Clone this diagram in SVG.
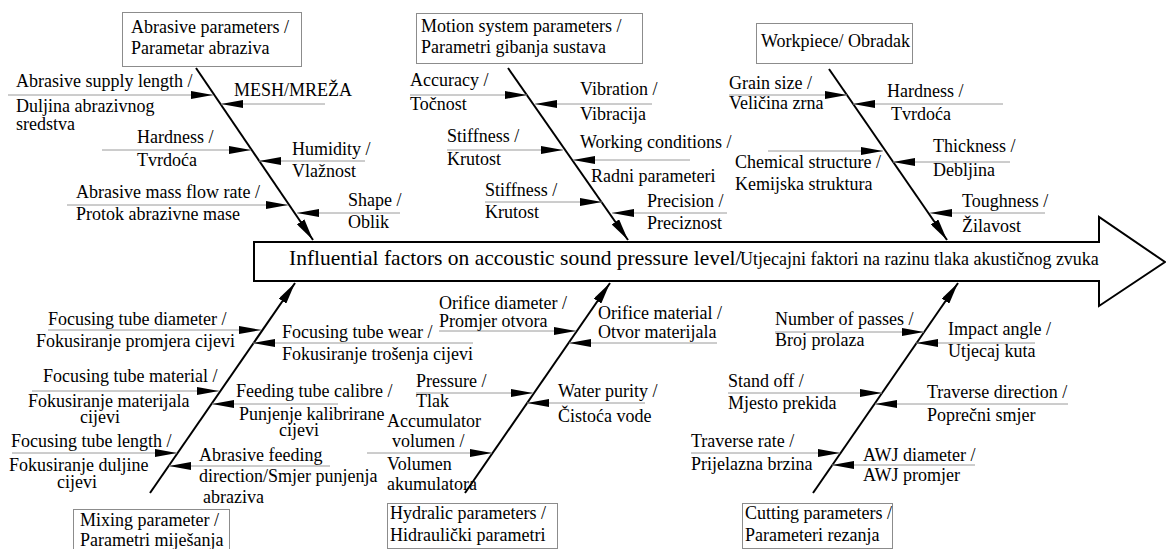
<svg xmlns="http://www.w3.org/2000/svg" width="1166" height="549" viewBox="0 0 1166 549">
<style>
text{font-family:"Liberation Serif","Times New Roman",serif;font-size:18px;fill:#000}
.box{fill:#fff;stroke:#8c8c8c;stroke-width:1}
.bone{stroke:#000;stroke-width:2;fill:none;marker-end:url(#bh)}
.sub{stroke:#9a9a9a;stroke-width:1;fill:none;marker-end:url(#ah)}
</style>
<defs>
<marker id="ah" markerUnits="userSpaceOnUse" markerWidth="22" markerHeight="8" refX="22" refY="4" orient="auto" viewBox="0 0 22 8"><path d="M0,0 L22,4 L0,8 z" fill="#000"/></marker>
<marker id="bh" markerUnits="userSpaceOnUse" markerWidth="22" markerHeight="9" refX="22" refY="4.5" orient="auto" viewBox="0 0 22 9"><path d="M0,0 L22,4.5 L0,9 z" fill="#000"/></marker>
</defs>
<rect width="1166" height="549" fill="#fff"/>

<g id="effect">
<polygon points="254,242 1099,242 1099,217 1165,262 1099,306 1099,281 254,281" fill="#fff" stroke="#000" stroke-width="2"/>
<text x="289" y="265"><tspan style="font-size:21.5px">Influential factors on accoustic sound pressure level/</tspan><tspan x="740">Utjecajni faktori na razinu tlaka akustičnog zvuka</tspan></text>
</g>

<g id="connectors">
<line class="bone" x1="196" y1="68" x2="313" y2="240"/>
<line class="bone" x1="508" y1="68" x2="628" y2="240"/>
<line class="bone" x1="829" y1="69" x2="947" y2="240"/>
<line class="bone" x1="150" y1="493" x2="295" y2="283"/>
<line class="bone" x1="465" y1="493" x2="610" y2="283"/>
<line class="bone" x1="813" y1="493" x2="958" y2="283"/>
<!-- abrasive -->
<line class="sub" x1="8" y1="95" x2="213" y2="95"/>
<line class="sub" x1="325" y1="104" x2="221" y2="104"/>
<line class="sub" x1="102" y1="150" x2="251" y2="150"/>
<line class="sub" x1="365" y1="161" x2="259" y2="161"/>
<line class="sub" x1="67" y1="205" x2="288" y2="205"/>
<line class="sub" x1="400" y1="213" x2="297" y2="213"/>
<!-- motion -->
<line class="sub" x1="410" y1="95" x2="527" y2="95"/>
<line class="sub" x1="652" y1="104" x2="535" y2="104"/>
<line class="sub" x1="447" y1="150" x2="563" y2="150"/>
<line class="sub" x1="690" y1="160" x2="573" y2="160"/>
<line class="sub" x1="485" y1="202" x2="602" y2="202"/>
<line class="sub" x1="727" y1="213" x2="612" y2="213"/>
<!-- workpiece -->
<line class="sub" x1="729" y1="95" x2="847" y2="95"/>
<line class="sub" x1="1003" y1="104" x2="853" y2="104"/>
<line class="sub" x1="768" y1="151" x2="883" y2="151"/>
<line class="sub" x1="1010" y1="162" x2="893" y2="162"/>
<line class="sub" x1="1045" y1="213" x2="930" y2="213"/>
<!-- mixing -->
<line class="sub" x1="48" y1="330" x2="261" y2="330"/>
<line class="sub" x1="473" y1="343" x2="253" y2="343"/>
<line class="sub" x1="32" y1="391" x2="219" y2="391"/>
<line class="sub" x1="338" y1="404" x2="212" y2="404"/>
<line class="sub" x1="12" y1="453" x2="177" y2="453"/>
<line class="sub" x1="330" y1="466" x2="169" y2="466"/>
<!-- hydraulic -->
<line class="sub" x1="439" y1="331" x2="576" y2="331"/>
<line class="sub" x1="717" y1="343" x2="569" y2="343"/>
<line class="sub" x1="416" y1="393" x2="533" y2="393"/>
<line class="sub" x1="645" y1="403" x2="527" y2="403"/>
<line class="sub" x1="367" y1="453" x2="492" y2="453"/>
<!-- cutting -->
<line class="sub" x1="775" y1="332" x2="924" y2="332"/>
<line class="sub" x1="1035" y1="343" x2="916" y2="343"/>
<line class="sub" x1="728" y1="393" x2="882" y2="393"/>
<line class="sub" x1="1068" y1="404" x2="875" y2="404"/>
<line class="sub" x1="691" y1="453" x2="840" y2="453"/>
<line class="sub" x1="975" y1="465" x2="832" y2="465"/>
</g>

<g id="cat-abrasive">
<rect class="box" x="122.5" y="12.5" width="179" height="54"/>
<text x="131" y="33">Abrasive parameters /</text>
<text x="131" y="54">Parametar abraziva</text>
</g>
<g id="cat-motion">
<rect class="box" x="416.5" y="13.5" width="226" height="50"/>
<text x="421" y="32">Motion system parameters /</text>
<text x="421" y="53">Parametri gibanja sustava</text>
</g>
<g id="cat-workpiece">
<rect class="box" x="756.5" y="23.5" width="156" height="40"/>
<text x="761" y="47">Workpiece/ Obradak</text>
</g>
<g id="cat-mixing">
<rect class="box" x="73.5" y="509.5" width="156" height="45"/>
<text x="80" y="526">Mixing parameter /</text>
<text x="80" y="546">Parametri miješanja</text>
</g>
<g id="cat-hydraulic">
<rect class="box" x="387.5" y="503.5" width="170" height="45"/>
<text x="390" y="519">Hydralic parameters /</text>
<text x="390" y="541">Hidraulički parametri</text>
</g>
<g id="cat-cutting">
<rect class="box" x="742.5" y="503.5" width="150" height="45"/>
<text x="745" y="519">Cutting parameters /</text>
<text x="745" y="541">Parameteri rezanja</text>
</g>

<g id="c-supply"><text x="16" y="87">Abrasive supply length /</text><text x="16" y="112">Duljina abrazivnog</text><text x="16" y="130">sredstva</text></g>
<g id="c-mesh"><text x="234" y="96">MESH/MREŽA</text></g>
<g id="c-hardness1"><text x="137" y="143">Hardness /</text><text x="137" y="166">Tvrdoća</text></g>
<g id="c-humidity"><text x="292" y="155">Humidity /</text><text x="292" y="177">Vlažnost</text></g>
<g id="c-massflow"><text x="76" y="198">Abrasive mass flow rate /</text><text x="76" y="220">Protok abrazivne mase</text></g>
<g id="c-shape"><text x="348" y="206">Shape /</text><text x="348" y="228">Oblik</text></g>

<g id="c-accuracy"><text x="410" y="86">Accuracy /</text><text x="410" y="110">Točnost</text></g>
<g id="c-vibration"><text x="580" y="95">Vibration /</text><text x="580" y="120">Vibracija</text></g>
<g id="c-stiffness1"><text x="447" y="142">Stiffness /</text><text x="447" y="165">Krutost</text></g>
<g id="c-working"><text x="580" y="148">Working conditions /</text><text x="591" y="182">Radni parameteri</text></g>
<g id="c-stiffness2"><text x="485" y="196">Stiffness /</text><text x="485" y="218">Krutost</text></g>
<g id="c-precision"><text x="647" y="207">Precision /</text><text x="647" y="229">Preciznost</text></g>

<g id="c-grain"><text x="729" y="89">Grain size /</text><text x="729" y="109">Veličina zrna</text></g>
<g id="c-hardness2"><text x="887" y="97">Hardness /</text><text x="891" y="120">Tvrdoća</text></g>
<g id="c-chemical"><text x="735" y="168">Chemical structure /</text><text x="735" y="190">Kemijska struktura</text></g>
<g id="c-thickness"><text x="933" y="152">Thickness /</text><text x="933" y="176">Debljina</text></g>
<g id="c-toughness"><text x="962" y="207">Toughness /</text><text x="962" y="232">Žilavost</text></g>

<g id="c-ftdiameter"><text x="48" y="325">Focusing tube diameter /</text><text x="36" y="347">Fokusiranje promjera cijevi</text></g>
<g id="c-ftwear"><text x="282" y="338">Focusing tube wear /</text><text x="282" y="360">Fokusiranje trošenja cijevi</text></g>
<g id="c-ftmaterial"><text x="43" y="382">Focusing tube material /</text><text x="28" y="407">Fokusiranje materijala</text><text x="80" y="423">cijevi</text></g>
<g id="c-feeding"><text x="236" y="397">Feeding tube calibre /</text><text x="239" y="420">Punjenje kalibrirane</text><text x="279" y="436">cijevi</text></g>
<g id="c-ftlength"><text x="11" y="447">Focusing tube length /</text><text x="9" y="471">Fokusiranje duljine</text><text x="57" y="488">cijevi</text></g>
<g id="c-abrfeeding"><text x="199" y="461">Abrasive feeding</text><text x="199" y="482">direction/Smjer punjenja</text><text x="203" y="503">abraziva</text></g>

<g id="c-orifdiam"><text x="439" y="309">Orifice diameter /</text><text x="439" y="327">Promjer otvora</text></g>
<g id="c-orifmat"><text x="598" y="319">Orifice material /</text><text x="598" y="338">Otvor materijala</text></g>
<g id="c-pressure"><text x="416" y="387">Pressure /</text><text x="416" y="407">Tlak</text></g>
<g id="c-water"><text x="558" y="397">Water purity /</text><text x="558" y="422">Čistoća vode</text></g>
<g id="c-accum"><text x="387" y="427">Accumulator</text><text x="392" y="447">volumen /</text><text x="387" y="470">Volumen</text><text x="387" y="490">akumulatora</text></g>

<g id="c-passes"><text x="775" y="325">Number of passes /</text><text x="775" y="346">Broj prolaza</text></g>
<g id="c-impact"><text x="948" y="335">Impact angle /</text><text x="948" y="357">Utjecaj kuta</text></g>
<g id="c-standoff"><text x="728" y="387">Stand off /</text><text x="728" y="409">Mjesto prekida</text></g>
<g id="c-travdir"><text x="927" y="398">Traverse direction /</text><text x="927" y="421">Poprečni smjer</text></g>
<g id="c-travrate"><text x="691" y="447">Traverse rate /</text><text x="691" y="470">Prijelazna brzina</text></g>
<g id="c-awj"><text x="863" y="461">AWJ diameter /</text><text x="863" y="481">AWJ promjer</text></g>
</svg>
